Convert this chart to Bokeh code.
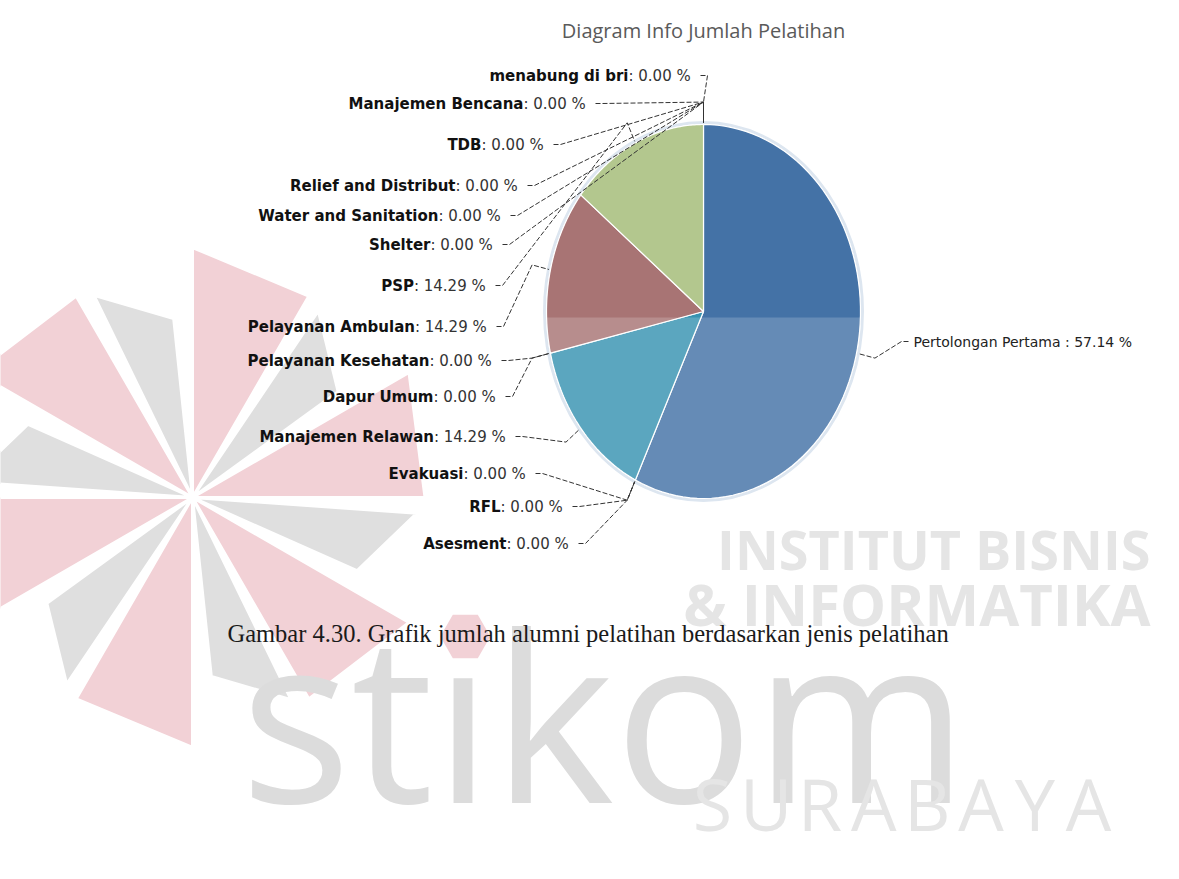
import math
import numpy as np
from bokeh.plotting import figure
from bokeh.models import Range1d
from bokeh.core.properties import value
from bokeh.embed import file_html
from bokeh.resources import INLINE

# ---------------- data ----------------
title_text = "Diagram Info Jumlah Pelatihan"
caption_text = "Gambar 4.30. Grafik jumlah alumni pelatihan berdasarkan jenis pelatihan"
categories = ["Pertolongan Pertama", "Asesment", "RFL", "Evakuasi", "Manajemen Relawan",
              "Dapur Umum", "Pelayanan Kesehatan", "Pelayanan Ambulan", "PSP", "Shelter",
              "Water and Sanitation", "Relief and Distribut", "TDB", "Manajemen Bencana",
              "menabung di bri"]
counts = [4, 0, 0, 0, 1, 0, 0, 1, 1, 0, 0, 0, 0, 0, 0]
watermark_lines = ["INSTITUT BISNIS", "& INFORMATIKA"]
watermark_word = "st\u0131kom"
watermark_city = "SURABAYA"

# ---------------- style / layout ----------------
W, H = 1179, 879
palette = ["#4472a6", "#aa4643", "#89a54e", "#80699b", "#3893b1",
           "#db843d", "#92a8cd", "#a87474", "#b3c78e"]
CX, CY, RX, RY = 703.0, 311.0, 157.0, 187.0
SPLIT_Y = 317.0
# label anchor: right end for left-side labels, left start for right-side label
label_x = [913, 573, 567, 530, 510, 500, 496, 491, 490, 497, 505, 522, 548, 590, 695]
label_y = [341, 543, 506, 473, 436, 396, 360, 326, 285, 244, 215, 185, 144, 103, 75]
LABEL_SIZE = 15

NORMAL_W = {**{d: 0.636 for d in "0123456789"}, ".": 0.318, ":": 0.337, " ": 0.318, "%": 0.950}


def text_w(s, table, size):
    return sum(table.get(ch, 0.65) for ch in s) * size


p = figure(width=W, height=H, x_range=Range1d(0, W), y_range=Range1d(H, 0),
           x_axis_type=None, y_axis_type=None, toolbar_location=None,
           output_backend="svg", min_border=0)
p.outline_line_color = None
p.background_fill_color = "white"
p.border_fill_color = "white"
p.grid.visible = False

# ---------------- watermark ----------------
LC = (192.0, 497.0)
LR = 250.0
pink_x, pink_y, gray_x, gray_y = [], [], [], []
for k in range(6):
    a = math.radians(-90 + 60 * k)

    def pt(ang, r):
        return LC[0] + r * math.cos(ang), LC[1] + r * math.sin(ang)
    p1 = pt(a, LR)
    p2 = pt(a + math.radians(30), LR * 0.93)
    g1 = pt(a + math.radians(34), LR * 0.9)
    g2 = pt(a + math.radians(54), LR * 0.72)
    pink_x.append([LC[0], p1[0], p2[0]]); pink_y.append([LC[1], p1[1], p2[1]])
    gray_x.append([LC[0], g1[0], g2[0]]); gray_y.append([LC[1], g1[1], g2[1]])
p.patches(pink_x, pink_y, fill_color="#f2d1d6", line_color="white", line_width=3)
p.patches(gray_x, gray_y, fill_color="#dfdfdf", line_color="white", line_width=3)

wm_color = "#e5e5e5"
p.text(x=[1150], y=[548], text=[watermark_lines[0]], text_align="right", text_baseline="middle",
       text_font=value("Open Sans"), text_font_style="bold", text_font_size="54px", text_color=wm_color)
p.text(x=[1150], y=[603], text=[watermark_lines[1]], text_align="right", text_baseline="middle",
       text_font=value("Open Sans"), text_font_style="bold", text_font_size="58px", text_color=wm_color)
STIKOM_SIZE = 232
STIKOM_X = 240
p.text(x=[STIKOM_X], y=[712], text=[watermark_word], text_align="left", text_baseline="middle",
       text_font=value("Open Sans"), text_font_size=f"{STIKOM_SIZE}px", text_color="#dcdcdc")
dot_x = STIKOM_X + (0.479 + 0.361 + 0.129) * STIKOM_SIZE
p.scatter(x=[dot_x], y=[636], marker="hex", size=50, fill_color="#f2d1d6", line_color=None)
n_city = len(watermark_city)
city_x = [712 + i * (1088 - 712) / (n_city - 1) for i in range(n_city)]
p.text(x=city_x, y=[802] * n_city, text=list(watermark_city), text_align="center",
       text_baseline="middle", text_font=value("Open Sans"), text_font_size="72px",
       text_color=wm_color)

# ---------------- pie ----------------
total = float(sum(counts))
fracs = [c / total for c in counts]
starts = np.cumsum([0.0] + fracs[:-1]) * 2 * math.pi
ends = starts + np.array(fracs) * 2 * math.pi


def ell(t, sx=1.0, sy=1.0):
    return CX + RX * sx * math.sin(t), CY - RY * sy * math.cos(t)


p.ellipse(x=[CX], y=[CY], width=[2 * RX + 4], height=[2 * RY + 4], fill_color=None,
          line_color="#dde6f0", line_width=3)

xs, ys, cols = [], [], []
for i, c in enumerate(counts):
    if c <= 0:
        continue
    ts = np.linspace(starts[i], ends[i], 80)
    px = [CX] + [ell(t)[0] for t in ts]
    py = [CY] + [ell(t)[1] for t in ts]
    xs.append(px); ys.append(py); cols.append(palette[i % len(palette)])
p.patches(xs=xs, ys=ys, fill_color=cols, line_color="white", line_width=1.2)

# scan lightening of lower half
t1 = math.acos(-(SPLIT_Y - CY) / RY)
ts = np.linspace(t1, 2 * math.pi - t1, 200)
p.patch([ell(t)[0] for t in ts], [ell(t)[1] for t in ts], fill_color="white",
        fill_alpha=0.18, line_color=None)

# ---------------- connectors & labels ----------------
cx_list, cy_list = [], []
name_x, name_y, name_t = [], [], []
val_x, val_y, val_t = [], [], []
right_x, right_y, right_t = [], [], []
for i, name in enumerate(categories):
    mid = (starts[i] + ends[i]) / 2
    ex, ey = ell(mid, 1.01, 1.01)
    ox, oy = ell(mid, 1.12, 1.12)
    lx, ly = label_x[i], label_y[i]
    pct = f" : {fracs[i] * 100:.2f} %"
    if 0 < mid < math.pi:
        sx, bx = lx - 5, lx - 12
        right_x.append(lx); right_y.append(ly); right_t.append(name + pct)
    else:
        sx, bx = lx + 5, lx + 12
        val_x.append(lx); val_y.append(ly); val_t.append(pct)
        name_x.append(lx - text_w(pct, NORMAL_W, LABEL_SIZE)); name_y.append(ly); name_t.append(name)
    cx_list.append([sx, bx, ox, ex]); cy_list.append([ly, ly, oy, ey])

p.multi_line(cx_list, cy_list, line_color="#333333", line_width=1, line_dash="5 2")

p.text(x=name_x, y=name_y, text=name_t, text_align="right", text_baseline="middle",
       text_font=value("DejaVu Sans"), text_font_style="bold", text_font_size=f"{LABEL_SIZE}px",
       text_color="#111111")
p.text(x=val_x, y=val_y, text=val_t, text_align="right", text_baseline="middle",
       text_font=value("DejaVu Sans"), text_font_size=f"{LABEL_SIZE}px", text_color="#333333")
p.text(x=right_x, y=right_y, text=right_t, text_align="left", text_baseline="middle",
       text_font=value("DejaVu Sans"), text_font_size="14px", text_color="#222222")

# ---------------- title & caption ----------------
p.text(x=[CX], y=[30], text=[title_text], text_align="center", text_baseline="middle",
       text_font=value("Open Sans"), text_font_size="20px", text_color="#5a5a5a")
p.text(x=[227], y=[633], text=[caption_text], text_align="left", text_baseline="middle",
       text_font=value("Liberation Serif"), text_font_size="24.5px", text_color="#1a1a1a")

open("out.html", "w").write(file_html(p, INLINE))
